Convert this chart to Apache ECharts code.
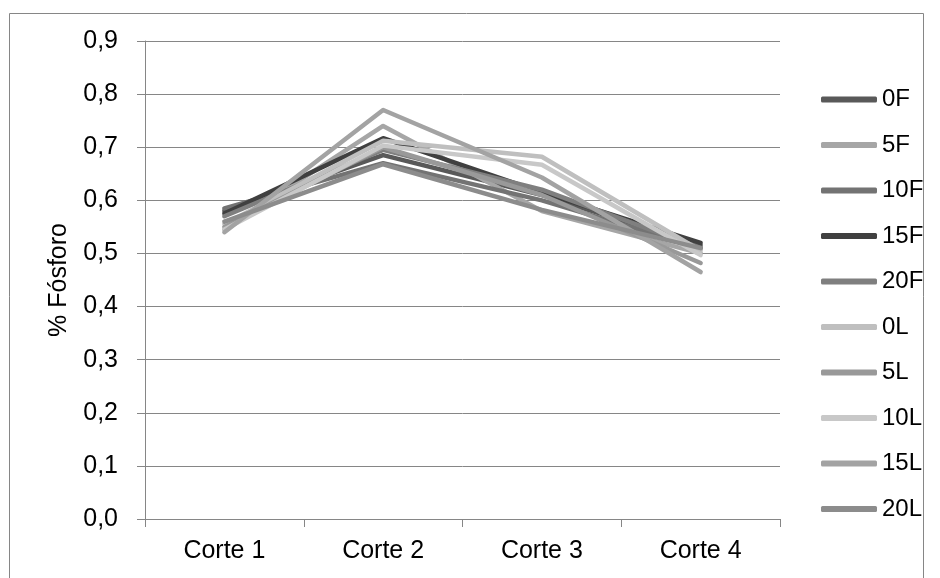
<!DOCTYPE html>
<html><head><meta charset="utf-8">
<script src="https://cdn.jsdelivr.net/npm/echarts@6/dist/echarts.min.js"></script>
<style>html,body{margin:0;padding:0;background:#fff}#c{width:940px;height:578px}</style>
</head><body><div id="c"></div>
<script>
var categories = ['Corte 1', 'Corte 2', 'Corte 3', 'Corte 4'];
var seriesNames = ['0F', '5F', '10F', '15F', '20F', '0L', '5L', '10L', '15L', '20L'];
var v0F  = [0.580, 0.685, 0.610, 0.515];
var v5F  = [0.545, 0.740, 0.580, 0.500];
var v10F = [0.585, 0.670, 0.600, 0.510];
var v15F = [0.575, 0.717, 0.615, 0.520];
var v20F = [0.570, 0.695, 0.620, 0.510];
var v0L  = [0.555, 0.712, 0.682, 0.505];
var v5L  = [0.550, 0.700, 0.610, 0.482];
var v10L = [0.545, 0.703, 0.667, 0.497];
var v15L = [0.540, 0.770, 0.643, 0.465];
var v20L = [0.560, 0.668, 0.582, 0.510];
var yTicks = ['0,0','0,1','0,2','0,3','0,4','0,5','0,6','0,7','0,8','0,9'];
var colors = ['#595959','#a6a6a6','#737373','#404040','#7f7f7f','#bfbfbf','#999999','#c8c8c8','#a3a3a3','#8c8c8c'];
var values = [v0F, v5F, v10F, v15F, v20F, v0L, v5L, v10L, v15L, v20L];

var font = 'Liberation Sans, Arial, sans-serif';
var series = seriesNames.map(function (n, i) {
  return {
    name: n, type: 'line', data: values[i], symbol: 'none', smooth: false,
    lineStyle: { color: colors[i], width: 4.5, cap: 'round', join: 'round' },
    itemStyle: { color: colors[i] }
  };
});

var chart = echarts.init(document.getElementById('c'));
chart.setOption({
  animation: false,
  backgroundColor: '#fff',
  graphic: [{ type: 'rect', shape: { x: 9.5, y: 13.5, width: 914, height: 620 }, style: { fill: 'none', stroke: '#868686', lineWidth: 1 }, silent: true, z: -1 }],
  grid: { left: 145, right: 160, top: 41, bottom: 59 },
  xAxis: {
    type: 'category', data: categories, boundaryGap: true,
    axisLine: { lineStyle: { color: '#868686', width: 1 } },
    axisTick: { show: true, length: 8, lineStyle: { color: '#868686' } },
    axisLabel: { color: '#000', fontFamily: font, fontSize: 25, margin: 20 }
  },
  yAxis: {
    type: 'value', min: 0, max: 0.9, interval: 0.1,
    name: '% Fósforo', nameLocation: 'middle', nameGap: 73, nameRotate: 90,
    nameTextStyle: { color: '#000', fontFamily: font, fontSize: 25 },
    axisLine: { show: true, lineStyle: { color: '#868686', width: 1 } },
    axisTick: { show: true, length: 8, lineStyle: { color: '#868686' } },
    splitLine: { show: true, lineStyle: { color: '#868686', width: 1 } },
    axisLabel: {
      color: '#000', fontFamily: font, fontSize: 25, margin: 27,
      formatter: function (v) { return yTicks[Math.round(v * 10)]; }
    }
  },
  legend: {
    orient: 'vertical', left: 816, top: 82, itemWidth: 56, itemHeight: 6,
    itemGap: 20.5, icon: 'roundRect',
    textStyle: { color: '#000', fontFamily: font, fontSize: 24, lineHeight: 25 },
    data: seriesNames
  },
  series: series
});
</script></body></html>
